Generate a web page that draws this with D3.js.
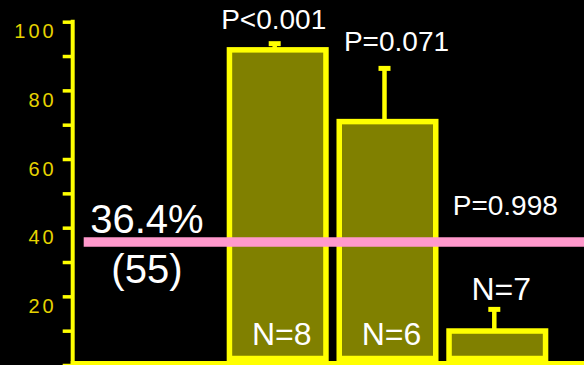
<!DOCTYPE html>
<html>
<head>
<meta charset="utf-8">
<script src="https://cdn.jsdelivr.net/npm/d3@7"></script>
<style>
  html, body { margin: 0; padding: 0; background: #000; }
  svg { display: block; }
  text { font-family: "Liberation Sans", Arial, sans-serif; }
</style>
</head>
<body>
<svg id="chart" width="584" height="365"></svg>
<script>
// ---- data ----
const groups = ["Reference", "Group 1", "Group 2", "Group 3"];
const barGroups = ["Group 1", "Group 2", "Group 3"];
const barMeans = [91.8, 70.9, 9.9];
const barErrors = [1.8, 15.5, 6.3];
const pLabels = ["P<0.001", "P=0.071", "P=0.998"];
const nLabels = ["N=8", "N=6", "N=7"];
const referenceValue = 36.4;
const referenceLabel = "36.4%";
const referenceCount = "(55)";
const yTicks = [0, 20, 40, 60, 80, 100];
const yMinorTicks = [10, 30, 50, 70, 90];

// ---- layout ----
const W = 584, H = 365;
const axisX = 72.7;
const svg = d3.select("#chart");
svg.append("rect").attr("width", W).attr("height", H).attr("fill", "#000");

const y = d3.scaleLinear().domain([0, 100]).range([365, 21.7]);
const x = d3.scaleBand().domain(groups).range([113, 552.2])
  .paddingInner(0.121).paddingOuter(0.0605);

const yellow = "#ffff00";
const tickYellow = "#e6d300";

// y axis with ticks
const yAxis = d3.axisLeft(y)
  .tickValues(yTicks.concat(yMinorTicks).sort((a, b) => a - b))
  .tickSize(10)
  .tickFormat(d => yTicks.includes(d) ? d3.format("d")(d) : "");
const gy = svg.append("g").attr("transform", `translate(${axisX},0)`).call(yAxis);
gy.select(".domain").remove();
gy.selectAll(".tick line").attr("stroke", yellow).attr("stroke-width", 3.5);
gy.selectAll(".tick text")
  .attr("fill", tickYellow)
  .attr("font-size", 20)
  .attr("letter-spacing", 3)
  .attr("x", -16)
  .attr("dy", 0)
  .attr("y", 16)
  .attr("text-anchor", "end")
  .attr("dominant-baseline", "auto");

// axis lines
svg.append("line")
  .attr("x1", axisX).attr("x2", axisX)
  .attr("y1", y(100) - 2).attr("y2", H)
  .attr("stroke", yellow).attr("stroke-width", 4);
svg.append("line")
  .attr("x1", axisX - 2).attr("x2", W)
  .attr("y1", y(0) - 2).attr("y2", y(0) - 2)
  .attr("stroke", yellow).attr("stroke-width", 4);

// error bars
const errOffset = -3;
const eg = svg.append("g");
barGroups.forEach((g, i) => {
  const cx = x(g) + x.bandwidth() / 2 + errOffset;
  const top = y(barMeans[i] + barErrors[i]);
  eg.append("line")
    .attr("x1", cx).attr("x2", cx)
    .attr("y1", top).attr("y2", y(barMeans[i]))
    .attr("stroke", yellow).attr("stroke-width", 4.5);
  eg.append("line")
    .attr("x1", cx - 6).attr("x2", cx + 6)
    .attr("y1", top).attr("y2", top)
    .attr("stroke", yellow).attr("stroke-width", 5);
});

// bars
svg.append("g").selectAll("rect")
  .data(barGroups)
  .join("rect")
  .attr("x", d => x(d))
  .attr("width", x.bandwidth())
  .attr("y", (d, i) => y(barMeans[i]))
  .attr("height", (d, i) => y(0) - 6.5 - y(barMeans[i]))
  .attr("fill", "#808000")
  .attr("stroke", yellow)
  .attr("stroke-width", 5.5);

// reference line
const refY = y(referenceValue);
svg.append("line")
  .attr("x1", axisX + 11).attr("x2", W)
  .attr("y1", refY + 2).attr("y2", refY + 2)
  .attr("stroke", "#ff99cc").attr("stroke-width", 9.5);

const refCx = x(groups[0]) + x.bandwidth() / 2 - 21;
svg.append("text")
  .attr("x", refCx).attr("y", refY - 7)
  .attr("text-anchor", "middle").attr("fill", "#fff").attr("font-size", 40)
  .text(referenceLabel);
svg.append("text")
  .attr("x", refCx).attr("y", refY + 43)
  .attr("text-anchor", "middle").attr("fill", "#fff").attr("font-size", 40)
  .text(referenceCount);

// P labels
barGroups.forEach((g, i) => {
  const cx = x(g) + x.bandwidth() / 2;
  let px, py;
  if (i === 0) { px = cx - 4; py = y(barMeans[i] + barErrors[i]) - 14.5; }
  else if (i === 1) { px = cx + 9; py = y(barMeans[i] + barErrors[i]) - 17.5; }
  else { px = cx + 8; py = refY - 25; }
  svg.append("text")
    .attr("x", px).attr("y", py)
    .attr("text-anchor", "middle").attr("fill", "#fff").attr("font-size", 28)
    .text(pLabels[i]);
});

// N labels
barGroups.forEach((g, i) => {
  const cx = x(g) + x.bandwidth() / 2 + 4;
  const ny = i < 2 ? y(0) - 20 : y(barMeans[i] + barErrors[i]) - 9;
  svg.append("text")
    .attr("x", cx).attr("y", ny)
    .attr("text-anchor", "middle").attr("fill", "#fff").attr("font-size", 32)
    .text(nLabels[i]);
});
</script>
</body>
</html>
